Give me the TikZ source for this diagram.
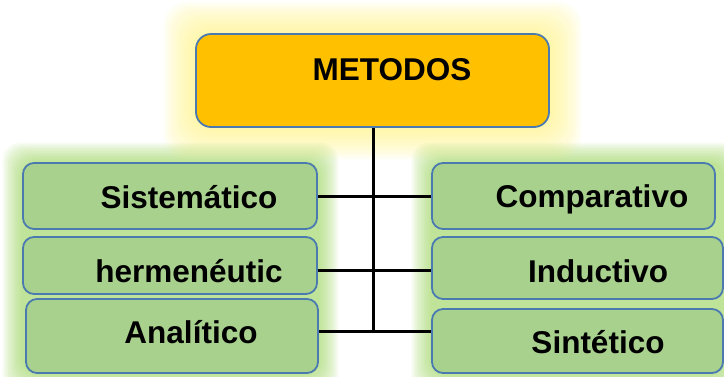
\documentclass[tikz,border=0pt]{standalone}
\usepackage{fontspec}
\setmainfont{Liberation Sans}
\definecolor{topfill}{HTML}{FFC000}
\definecolor{greenfill}{HTML}{A9D18E}
\definecolor{boxline}{HTML}{4A7AB0}
\definecolor{glowy}{HTML}{FFF27A}
\definecolor{glowg}{HTML}{92D050}
\begin{document}
\begin{tikzpicture}[x=1pt,y=-1pt,
  box/.style={draw=boxline, line width=1.8pt, rounded corners=11pt, inner sep=0pt},
  lbl/.style={font=\bfseries\fontsize{31.5}{36}\selectfont, anchor=base, inner sep=0pt},
  conn/.style={line width=3pt, black}]
\useasboundingbox (0,0) rectangle (724,376);
% glows
\foreach \i in {1,...,12} {
  \fill[glowy, opacity=0.08, rounded corners=24pt] (196-2.7*\i,34-2.7*\i) rectangle (549+2.7*\i,127+2.7*\i);
  \fill[glowg, opacity=0.07, rounded corners=18pt] (23-1.7*\i,163-1.7*\i) rectangle (318+1.7*\i,373+1.7*\i);
  \fill[glowg, opacity=0.07, rounded corners=18pt] (432-1.7*\i,163-1.7*\i) rectangle (723+1.7*\i,373+1.7*\i);
}
% boxes
\node[box, fill=topfill, rounded corners=15pt, minimum width=353pt, minimum height=93pt] (top) at (372.5,80.5) {};
\node[box, fill=greenfill, minimum width=294pt, minimum height=66pt] (l1) at (170,196) {};
\node[box, fill=greenfill, minimum width=294pt, minimum height=57pt] (l2) at (170,265.5) {};
\node[box, fill=greenfill, minimum width=292pt, minimum height=74pt] (l3) at (172,336) {};
\node[box, fill=greenfill, minimum width=283pt, minimum height=66pt] (r1) at (573.5,196) {};
\node[box, fill=greenfill, minimum width=291pt, minimum height=62pt] (r2) at (577.5,268) {};
\node[box, fill=greenfill, minimum width=291pt, minimum height=64pt] (r3) at (577.5,341) {};
% texts
\node[lbl] (tm) at (392,80) {METODOS};
\node[lbl] (t1) at (189,208) {Sistemático};
\node[lbl] (t2) at (189,282) {hermenéutic};
\node[lbl] (t3) at (191,343) {Analítico};
\node[lbl] (t4) at (592,207) {Comparativo};
\node[lbl] (t5) at (598,282) {Inductivo};
\node[lbl] (t6) at (598,353) {Sintético};
% connectors
\coordinate (j1) at (373,196);
\coordinate (j2) at (373,270);
\coordinate (j3) at (373,331);
\draw[conn] (top.south -| j1) -- (j3);
\draw[conn] (l1.east) -- (r1.west);
\draw[conn] (j2 -| l2.east) -- (j2 -| r2.west);
\draw[conn] (j3 -| l3.east) -- (j3 -| r3.west);
\end{tikzpicture}
\end{document}
